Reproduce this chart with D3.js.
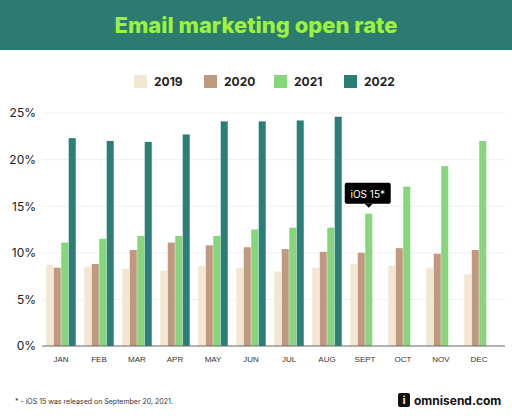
<!DOCTYPE html>
<html><head><meta charset="utf-8">
<script src="https://cdn.jsdelivr.net/npm/d3@7"></script>
<style>body{margin:0;background:#fff;font-family:Inter,"Noto Sans",sans-serif}</style>
</head><body><svg id="c"></svg>
<script>
const months = ["JAN","FEB","MAR","APR","MAY","JUN","JUL","AUG","SEPT","OCT","NOV","DEC"];
const years = ["2019","2020","2021","2022"];
const v2019 = [8.7,8.5,8.3,8.1,8.6,8.4,8.0,8.4,8.8,8.6,8.4,7.7];
const v2020 = [8.4,8.8,10.3,11.1,10.8,10.6,10.4,10.1,10.0,10.5,9.9,10.3];
const v2021 = [11.1,11.5,11.8,11.8,11.8,12.5,12.7,12.7,14.2,17.1,19.3,22.0];
const v2022 = [22.3,22.0,21.9,22.7,24.1,24.1,24.2,24.6,null,null,null,null];
const yTicks = [0,5,10,15,20,25];
const colors = ["#f3e6d3","#c09a80","#86d67a","#2a8077"];

const W = 512, H = 419;
const svg = d3.select("#c").attr("width", W).attr("height", H);
svg.append("rect").attr("width", W).attr("height", 50).attr("fill", "#2b7b70");
svg.append("text").attr("x", W/2).attr("y", 33).attr("text-anchor","middle")
  .attr("font-size", 22).attr("font-weight", 800).attr("fill", "#9cf23c")
  .text("Email marketing open rate");

const x = d3.scaleBand().domain(months).range([42, 498]).paddingInner(0.2).paddingOuter(0.1);
const xs = d3.scaleBand().domain(years).range([0, x.bandwidth()]).padding(0.06);
const y = d3.scaleLinear().domain([0, 25]).range([346, 113]);

const ga = svg.append("g").attr("transform","translate(42,0)")
  .call(d3.axisLeft(y).tickValues(yTicks).tickFormat(d => d + "%").tickSize(0).tickPadding(6));
ga.select(".domain").remove();
ga.selectAll("text").attr("font-size", 12).attr("fill", "#222").attr("font-family","Inter,sans-serif");
svg.append("g").selectAll("line").data(yTicks.slice(1)).join("line")
  .attr("x1", 42).attr("x2", 505).attr("y1", y).attr("y2", y).attr("stroke", "#f0f0f0");

const series = [v2019, v2020, v2021, v2022];
const bars = [];
series.forEach((s, i) => s.forEach((v, j) => { if (v != null) bars.push({m: months[j], yr: years[i], v, i}); }));
svg.append("g").selectAll("rect").data(bars).join("rect")
  .attr("x", d => x(d.m) + xs(d.yr)).attr("width", xs.bandwidth())
  .attr("y", d => y(d.v)).attr("height", d => y(0) - y(d.v)).attr("fill", d => colors[d.i]);

svg.append("line").attr("x1", 42).attr("x2", 505).attr("y1", y(0)).attr("y2", y(0)).attr("stroke", "#666");
const gx = svg.append("g").attr("transform", `translate(0,${y(0)})`)
  .call(d3.axisBottom(x).tickSize(0).tickPadding(10));
gx.select(".domain").remove();
gx.selectAll("text").attr("font-size", 8).attr("fill", "#333");

// legend
const lg = svg.append("g").selectAll("g").data(years).join("g")
  .attr("transform", (d, i) => `translate(${134 + i * 70},75)`);
lg.append("rect").attr("width", 13).attr("height", 13).attr("fill", (d, i) => colors[i]);
lg.append("text").attr("x", 20).attr("y", 11).attr("font-size", 12).attr("font-weight", 700)
  .attr("fill", "#222").text(d => d);

// iOS annotation
const ax = x("SEPT") + xs("2021") + xs.bandwidth()/2, ay = y(14.2) - 6;
const ann = svg.append("g");
ann.append("rect").attr("x", ax - 24).attr("y", ay - 25).attr("width", 46).attr("height", 21).attr("rx", 2).attr("fill", "#000");
ann.append("path").attr("d", `M${ax-4},${ay-4}L${ax},${ay}L${ax+4},${ay-4}Z`).attr("fill", "#000");
ann.append("text").attr("x", ax - 1).attr("y", ay - 10).attr("text-anchor","middle")
  .attr("font-size", 10).attr("fill", "#fff").text("iOS 15*");

svg.append("text").attr("x", 15).attr("y", 404).attr("font-size", 7).attr("fill", "#333")
  .text("* - iOS 15 was released on September 20, 2021.");
svg.append("rect").attr("x", 398).attr("y", 393).attr("width", 12).attr("height", 14).attr("rx", 2).attr("fill", "#111");
svg.append("text").attr("x", 404).attr("y", 404).attr("text-anchor","middle").attr("font-size", 10).attr("font-weight",700).attr("fill", "#fff").text("i");
svg.append("text").attr("x", 414).attr("y", 405).attr("font-size", 12).attr("font-weight", 700).attr("fill", "#111").text("omnisend.com");
</script></body></html>
